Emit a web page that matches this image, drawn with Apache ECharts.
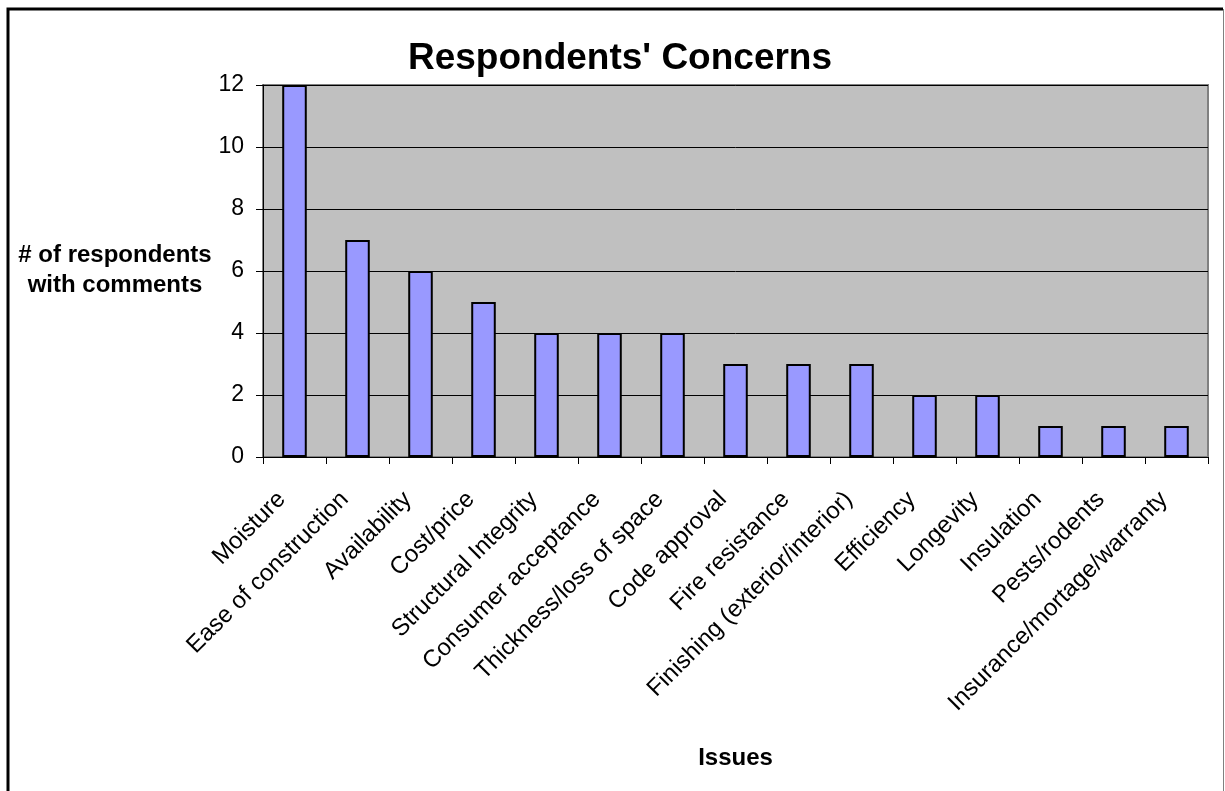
<!DOCTYPE html>
<html>
<head>
<meta charset="utf-8">
<script src="https://cdn.jsdelivr.net/npm/echarts@6/dist/echarts.min.js"></script>
<style>
  html, body { margin: 0; padding: 0; background: #fff; }
  #chart { width: 1225px; height: 791px; }
</style>
</head>
<body>
<div id="chart"></div>
<script>
// Issues raised by respondents and how many mentioned each
const categories = [
  'Moisture', 'Ease of construction', 'Availability', 'Cost/price',
  'Structural Integrity', 'Consumer acceptance', 'Thickness/loss of space',
  'Code approval', 'Fire resistance', 'Finishing (exterior/interior)',
  'Efficiency', 'Longevity', 'Insulation', 'Pests/rodents',
  'Insurance/mortage/warranty'
];
const respondents = [12, 7, 6, 5, 4, 4, 4, 3, 3, 3, 2, 2, 1, 1, 1];
const yTicks = [0, 2, 4, 6, 8, 10, 12];

const FONT = 'Liberation Sans, Arial, sans-serif';
const chart = echarts.init(document.getElementById('chart'));

chart.setOption({
  animation: false,
  backgroundColor: '#ffffff',
  title: {
    text: "Respondents' Concerns",
    left: 615, top: 35, textAlign: 'center',
    textStyle: { fontFamily: FONT, fontSize: 37, fontWeight: 'bold', color: '#000' }
  },
  grid: {
    left: 263, right: 17, top: 85, bottom: 334,
    show: true, backgroundColor: '#c0c0c0', borderColor: '#808080', borderWidth: 2
  },
  xAxis: {
    type: 'category',
    data: categories,
    boundaryGap: true,
    axisLine: { lineStyle: { color: '#000', width: 1 } },
    axisTick: { show: true, alignWithLabel: false, length: 7, lineStyle: { color: '#000' } },
    axisLabel: {
      rotate: 45, interval: 0, margin: 26, padding: [0, 18, 0, 0],
      fontFamily: FONT, fontSize: 24, color: '#000'
    },
    name: 'Issues',
    nameLocation: 'middle',
    nameGap: 289,
    nameTextStyle: { fontFamily: FONT, fontSize: 24, fontWeight: 'bold', color: '#000' }
  },
  yAxis: {
    type: 'value',
    min: yTicks[0], max: yTicks[yTicks.length - 1], interval: 2,
    axisLine: { show: true, lineStyle: { color: '#000', width: 1 } },
    axisTick: { show: true, length: 7, lineStyle: { color: '#000' } },
    axisLabel: { fontFamily: FONT, fontSize: 23, color: '#000', margin: 19 },
    splitLine: { show: true, lineStyle: { color: '#000', width: 1 } }
  },
  series: [{
    type: 'bar',
    data: respondents,
    barWidth: '39%',
    itemStyle: { color: '#9999ff', borderColor: '#000', borderWidth: 2 }
  }],
  graphic: [
    {
      type: 'polyline',
      shape: { points: [[8, 791], [8, 9], [1223, 9]] },
      style: { fill: 'none', stroke: '#000', lineWidth: 3 },
      silent: true
    },
    {
      type: 'line',
      shape: { x1: 1223.5, y1: 9, x2: 1223.5, y2: 791 },
      style: { stroke: '#808080', lineWidth: 1 },
      silent: true
    },
    {
      type: 'text',
      x: 115, y: 240,
      style: {
        text: '# of respondents\nwith comments',
        fontFamily: FONT, fontSize: 24, fontWeight: 'bold',
        fill: '#000', align: 'center', textAlign: 'center', lineHeight: 30
      }
    }
  ]
});
</script>
</body>
</html>
